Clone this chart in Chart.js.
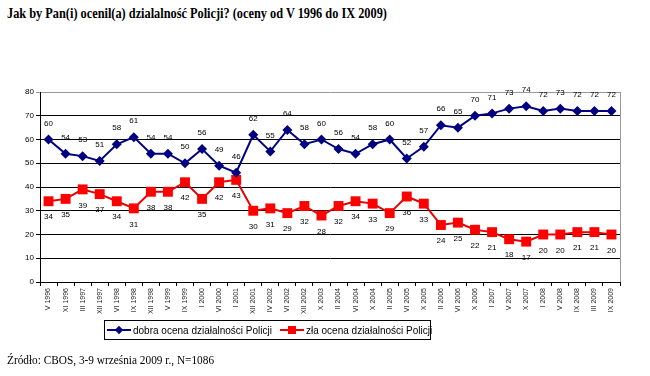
<!DOCTYPE html>
<html>
<head>
<meta charset="utf-8">
<script src="https://cdn.jsdelivr.net/npm/chart.js@4.4.0/dist/chart.umd.min.js"></script>
<style>
  html, body { margin: 0; padding: 0; background: #fff; }
  body { width: 650px; height: 376px; position: relative; overflow: hidden; }
  #chart { position: absolute; left: 0; top: 0; }
  .title { position: absolute; left: 7px; top: 6px; font: bold 14px "Liberation Serif", "Times New Roman", serif; white-space: nowrap; color: #000; transform-origin: 0 0; }
  .source { position: absolute; left: 7px; top: 352px; font: 13px "Liberation Serif", "Times New Roman", serif; white-space: nowrap; color: #000; transform-origin: 0 0; }
  .legend { position: absolute; left: 104px; top: 320px; width: 327px; height: 20px; border: 1px solid #000; box-sizing: border-box;
            font: 10px Arial, "Liberation Sans", sans-serif; display: flex; align-items: center; white-space: nowrap; }
  .item { display: flex; align-items: center; margin-left: 2px; margin-right: 6px; }
  .sample { position: relative; width: 24px; height: 12px; margin-right: 2px; }
  .sample .ln { position: absolute; left: 0; right: 0; top: 5px; height: 2px; }
  .sample .mk { position: absolute; left: 50%; top: 6px; }
</style>
</head>
<body>
<div class="title" id="title">Jak by Pan(i) ocenil(a) dzialalność Policji? (oceny od V 1996 do IX 2009)</div>
<canvas id="chart" width="650" height="376"></canvas>
<div class="legend" id="legend"></div>
<div class="source" id="source">Źródło: CBOS, 3-9 września 2009 r., N=1086</div>
<script>
const labels = ['V 1996', 'XI 1996', 'III 1997', 'XII 1997', 'VI 1998', 'IX 1998', 'XII 1998', 'V 1999', 'IX 1999',
  'I 2000', 'VI 2000', 'I 2001', 'XII 2001', 'IV 2002', 'VI 2002', 'XII 2002', 'X 2003', 'II 2004', 'VI 2004',
  'X 2004', 'II 2005', 'VI 2005', 'X 2005', 'II 2006', 'VI 2006', 'X 2006', 'I 2007', 'V 2007', 'X 2007',
  'I 2008', 'V 2008', 'IX 2008', 'III 2009', 'IX 2009'];
const goodRatings = [60, 54, 53, 51, 58, 61, 54, 54, 50, 56, 49, 46, 62, 55, 64, 58, 60, 56, 54, 58, 60, 52, 57,
  66, 65, 70, 71, 73, 74, 72, 73, 72, 72, 72];
const badRatings = [34, 35, 39, 37, 34, 31, 38, 38, 42, 35, 42, 43, 30, 31, 29, 32, 28, 32, 34, 33, 29, 36, 33,
  24, 25, 22, 21, 18, 17, 20, 20, 21, 21, 20];
const yTicks = [0, 10, 20, 30, 40, 50, 60, 70, 80];

const seriesNames = ['dobra ocena działalności Policji', 'zła ocena działalności Policji'];
const blue = '#000080';
const red = '#ff0000';

// squeeze a text block to the width it has in the picture
const fitWidth = (id, w) => {
  const el = document.getElementById(id);
  el.style.transform = `scaleX(${w / el.offsetWidth})`;
};
fitWidth('title', 380);
fitWidth('source', 207);

// value labels: good above, bad below
const valueLabels = {
  id: 'valueLabels',
  afterDatasetsDraw(chart) {
    const ctx = chart.ctx;
    ctx.save();
    ctx.font = '8px Arial, "Liberation Sans", sans-serif';
    ctx.fillStyle = '#000';
    ctx.textAlign = 'center';
    ctx.textBaseline = 'middle';
    chart.data.datasets.forEach((ds, i) => {
      const meta = chart.getDatasetMeta(i);
      const dy = i === 0 ? -16 : 16;
      meta.data.forEach((pt, j) => ctx.fillText(String(ds.data[j]), pt.x, pt.y + dy));
    });
    ctx.restore();
  }
};

const rightBorder = {
  id: 'rightBorder',
  beforeDatasetsDraw(chart) {
    const { ctx, chartArea } = chart;
    ctx.save();
    ctx.strokeStyle = '#999';
    ctx.lineWidth = 1;
    ctx.beginPath();
    ctx.moveTo(chartArea.right + 0.5, chartArea.top);
    ctx.lineTo(chartArea.right + 0.5, chartArea.bottom);
    ctx.stroke();
    ctx.restore();
  }
};

new Chart(document.getElementById('chart'), {
  type: 'line',
  data: {
    labels,
    datasets: [
      {
        label: seriesNames[0],
        data: goodRatings,
        borderColor: blue,
        backgroundColor: blue,
        borderWidth: 2,
        pointStyle: 'rectRot',
        pointRadius: 5,
        pointBorderWidth: 0,
        tension: 0
      },
      {
        label: seriesNames[1],
        data: badRatings,
        borderColor: '#e60000',
        backgroundColor: red,
        pointBackgroundColor: red,
        borderWidth: 2,
        pointStyle: 'rect',
        pointRadius: 7,
        pointBorderWidth: 0,
        tension: 0
      }
    ]
  },
  options: {
    responsive: false,
    animation: false,
    layout: { padding: { left: 0, top: 92, right: 30, bottom: 52 } },
    plugins: { legend: { display: false }, tooltip: { enabled: false } },
    scales: {
      x: {
        offset: true,
        grid: { offset: true, drawOnChartArea: false, color: '#000', tickLength: 4 },
        border: { color: '#000' },
        ticks: {
          autoSkip: false, minRotation: 90, maxRotation: 90, padding: 2,
          color: '#222', font: { family: 'Arial, "Liberation Sans", sans-serif', size: 7 }
        },
        afterFit: (s) => { s.height = 42; }
      },
      y: {
        min: 0,
        max: 80,
        afterBuildTicks: (s) => { s.ticks = yTicks.map((v) => ({ value: v })); },
        grid: { color: (c) => (c.tick && c.tick.value === 80 ? '#999' : '#000'), tickLength: 4 },
        border: { color: '#000' },
        ticks: { padding: 2, color: '#000', font: { family: 'Arial, "Liberation Sans", sans-serif', size: 8 } },
        afterFit: (s) => { s.width = 40; }
      }
    }
  },
  plugins: [rightBorder, valueLabels]
});

// html legend built from the series settings
const legend = document.getElementById('legend');
[[blue, blue, 'diamond'], ['#e60000', red, 'square']].forEach(([lineColor, markColor, shape], i) => {
  const item = document.createElement('div');
  item.className = 'item';
  const mk = shape === 'diamond'
    ? `<div class="mk" style="width:6px;height:6px;background:${markColor};transform:translate(-50%,-50%) rotate(45deg)"></div>`
    : `<div class="mk" style="width:8px;height:8px;background:${markColor};transform:translate(-50%,-50%)"></div>`;
  item.innerHTML = `<div class="sample"><div class="ln" style="background:${lineColor}"></div>${mk}</div><span>${seriesNames[i]}</span>`;
  legend.appendChild(item);
});
</script>
</body>
</html>
